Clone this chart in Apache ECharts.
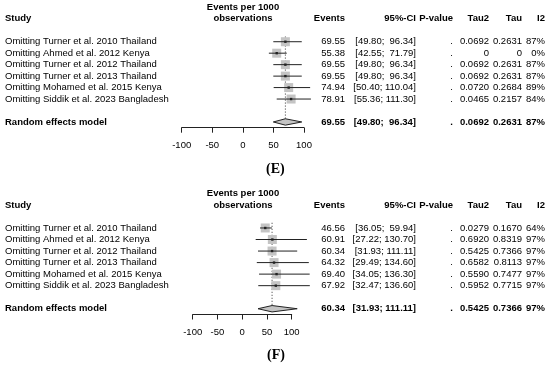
<!DOCTYPE html>
<html><head><meta charset="utf-8">
<script src="https://cdn.jsdelivr.net/npm/echarts@6/dist/echarts.min.js"></script>
<style>html,body{margin:0;padding:0;background:#fff}#c{width:550px;height:366px}</style>
</head><body><div id="c"></div>
<script>
// ---------- data ----------
const studies = [
  "Omitting Turner et al. 2010 Thailand",
  "Omitting Ahmed et al. 2012 Kenya",
  "Omitting Turner et al. 2012 Thailand",
  "Omitting Turner et al. 2013 Thailand",
  "Omitting Mohamed et al. 2015 Kenya",
  "Omitting Siddik et al. 2023 Bangladesh"
];
const pooledLabel = "Random effects model";
const xTicks = [-100, -50, 0, 50, 100];

// Panel E
const estE  = [69.55, 55.38, 69.55, 69.55, 74.94, 78.91];
const loE   = [49.80, 42.55, 49.80, 49.80, 50.40, 55.36];
const hiE   = [96.34, 71.79, 96.34, 96.34, 110.04, 111.30];
const pE    = [".", ".", ".", ".", ".", "."];
const tau2E = ["0.0692", "0", "0.0692", "0.0692", "0.0720", "0.0465"];
const tauE  = ["0.2631", "0", "0.2631", "0.2631", "0.2684", "0.2157"];
const i2E   = ["87%", "0%", "87%", "87%", "89%", "84%"];
const pooledE = [69.55, 49.80, 96.34];
const pooledStatsE = [".", "0.0692", "0.2631", "87%"];

// Panel F
const estF  = [46.56, 60.91, 60.34, 64.32, 69.40, 67.92];
const loF   = [36.05, 27.22, 31.93, 29.49, 34.05, 32.47];
const hiF   = [59.94, 130.70, 111.11, 134.60, 136.30, 136.60];
const pF    = [".", ".", ".", ".", ".", "."];
const tau2F = ["0.0279", "0.6920", "0.5425", "0.6582", "0.5590", "0.5952"];
const tauF  = ["0.1670", "0.8319", "0.7366", "0.8113", "0.7477", "0.7715"];
const i2F   = ["64%", "97%", "97%", "97%", "97%", "97%"];
const pooledF = [60.34, 31.93, 111.11];
const pooledStatsF = [".", "0.5425", "0.7366", "97%"];

const headers = ["Events", "95%-CI", "P-value", "Tau2", "Tau", "I2"];

// ---------- layout / style ----------
const FONT = '"Liberation Sans", Arial, Helvetica, sans-serif';
const FS = 9.5;
const COLX = [345, 416, 453, 489, 522, 545]; // right edges of the table columns
const STUDYX = 5;
const POOLED_ROW = 7;

function fmtCI(lo, hi) {
  return "[" + lo.toFixed(2).padStart(5, " ") + "; " + hi.toFixed(2).padStart(6, " ") + "]";
}

function tableRows(est, lo, hi, p, tau2, tau, i2, pooled, pooledStats, centerX) {
  const rows = [];
  rows.push({row: -3, cells: [{t: "Events per 1000", x: centerX, a: "center", b: true}]});
  const hc = [{t: "Study", x: STUDYX, a: "left", b: true}, {t: "observations", x: centerX, a: "center", b: true}];
  headers.forEach((h, k) => hc.push({t: h, x: COLX[k], a: "right", b: true}));
  rows.push({row: -2, cells: hc});
  est.forEach((e, i) => {
    const vals = [e.toFixed(2), fmtCI(lo[i], hi[i]), p[i], tau2[i], tau[i], i2[i]];
    const cells = [{t: studies[i], x: STUDYX, a: "left", b: false}];
    vals.forEach((v, k) => cells.push({t: v, x: COLX[k], a: "right", b: false}));
    rows.push({row: i, cells});
  });
  const pv = [pooled[0].toFixed(2), fmtCI(pooled[1], pooled[2])].concat(pooledStats);
  const pc = [{t: pooledLabel, x: STUDYX, a: "left", b: true}];
  pv.forEach((v, k) => pc.push({t: v, x: COLX[k], a: "right", b: true}));
  rows.push({row: POOLED_ROW, cells: pc});
  return rows;
}

function textSeries(gi, rows) {
  return {
    type: "custom", xAxisIndex: gi, yAxisIndex: gi, silent: true,
    data: rows.map(r => [0, r.row]),
    renderItem: (params, api) => {
      const r = rows[params.dataIndex];
      const y = api.coord([0, r.row])[1];
      return {type: "group", children: r.cells.map(c => ({
        type: "text",
        style: {text: c.t, x: c.x, y: y, align: c.a, verticalAlign: "middle",
                font: (c.b ? "bold " : "") + FS + "px " + FONT, fill: "#000"}
      }))};
    }
  };
}

function ciSeries(gi, est, lo, hi) {
  return {
    type: "custom", xAxisIndex: gi, yAxisIndex: gi, silent: true, clip: false,
    data: est.map((e, i) => [lo[i], hi[i], e, i]),
    renderItem: (params, api) => {
      const lo_ = api.value(0), hi_ = api.value(1), e = api.value(2), r = api.value(3);
      const a = api.coord([lo_, r]), b = api.coord([hi_, r]), c = api.coord([e, r]);
      const s = 9;
      return {type: "group", children: [
        {type: "rect", shape: {x: c[0] - s / 2, y: c[1] - s / 2, width: s, height: s},
         style: {fill: "#c4c4c4", stroke: null}},
        {type: "line", shape: {x1: a[0], y1: a[1], x2: b[0], y2: b[1]},
         style: {stroke: "#222", lineWidth: 1}},
        {type: "rect", shape: {x: c[0] - 1.2, y: c[1] - 1.2, width: 2.4, height: 2.4},
         style: {fill: "#222"}}
      ]};
    }
  };
}

function pooledSeries(gi, pooled) {
  return {
    type: "custom", xAxisIndex: gi, yAxisIndex: gi, silent: true, clip: false,
    data: [[pooled[0], pooled[1], pooled[2], POOLED_ROW]],
    renderItem: (params, api) => {
      const e = api.value(0), lo_ = api.value(1), hi_ = api.value(2), r = api.value(3);
      const top = api.coord([e, -0.45]), bot = api.coord([e, r]);
      const L = api.coord([lo_, r]), R = api.coord([hi_, r]);
      const h = 3.2;
      return {type: "group", children: [
        {type: "line", shape: {x1: top[0], y1: top[1], x2: bot[0], y2: bot[1] - h},
         style: {stroke: "#333", lineWidth: 1, lineDash: [1, 2]}},
        {type: "polygon", shape: {points: [[L[0], L[1]], [bot[0], bot[1] - h], [R[0], R[1]], [bot[0], bot[1] + h]]},
         style: {fill: "#c4c4c4", stroke: "#222", lineWidth: 1}}
      ]};
    }
  };
}

function xAxisCfg(gi) {
  return {
    type: "value", gridIndex: gi, min: xTicks[0], max: xTicks[xTicks.length - 1], interval: 50,
    position: "bottom",
    axisLine: {show: true, onZero: false, lineStyle: {color: "#222", width: 1}},
    axisTick: {show: true, length: 5, lineStyle: {color: "#222", width: 1}},
    axisLabel: {color: "#000", fontSize: FS, fontFamily: FONT, margin: 12.5},
    splitLine: {show: false}
  };
}
function yAxisCfg(gi) {
  return {type: "value", gridIndex: gi, min: -3.5, max: 7.5, inverse: true, show: false,
          axisLine: {onZero: false}};
}

const chart = echarts.init(document.getElementById("c"), null, {renderer: "canvas"});
chart.setOption({
  animation: false,
  backgroundColor: "#fff",
  grid: [
    {left: 181.7, width: 122.3, top: 1.6, height: 126.1},
    {left: 192.7, width: 99, top: 187.6, height: 126.9}
  ],
  xAxis: [xAxisCfg(0), xAxisCfg(1)],
  yAxis: [yAxisCfg(0), yAxisCfg(1)],
  graphic: [
    {type: "text", left: 266, top: 162, style: {text: "(E)", font: "bold 14px 'Liberation Serif', 'Times New Roman', serif", fill: "#000"}},
    {type: "text", left: 267, top: 348, style: {text: "(F)", font: "bold 14px 'Liberation Serif', 'Times New Roman', serif", fill: "#000"}}
  ],
  series: [
    pooledSeries(0, pooledE),
    ciSeries(0, estE, loE, hiE),
    textSeries(0, tableRows(estE, loE, hiE, pE, tau2E, tauE, i2E, pooledE, pooledStatsE, 243)),
    pooledSeries(1, pooledF),
    ciSeries(1, estF, loF, hiF),
    textSeries(1, tableRows(estF, loF, hiF, pF, tau2F, tauF, i2F, pooledF, pooledStatsF, 243))
  ]
});
</script></body></html>
